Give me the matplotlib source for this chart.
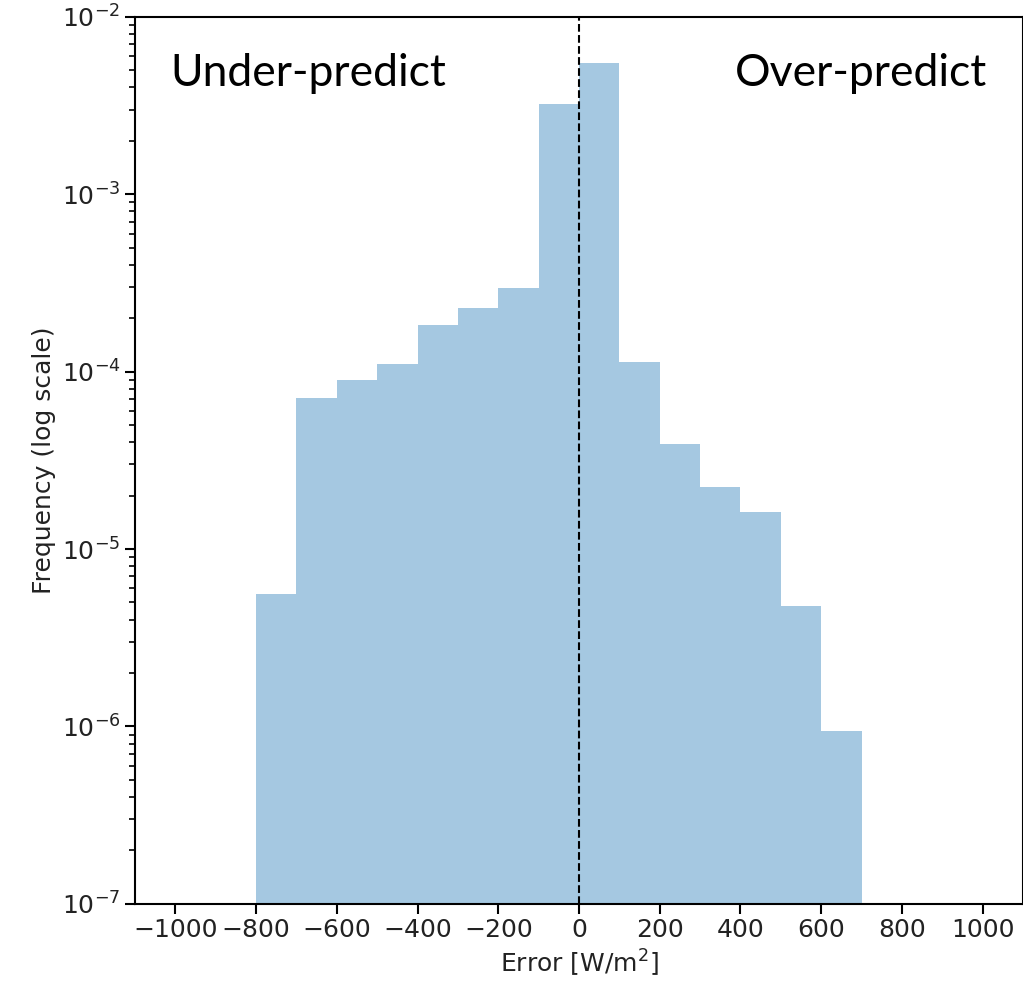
import numpy as np
import matplotlib
matplotlib.use("Agg")
import matplotlib.pyplot as plt

# bin edges of the error histogram (W/m^2)
bin_edges = [-800, -700, -600, -500, -400, -300, -200, -100, 0,
             100, 200, 300, 400, 500, 600, 700]
# normalised frequency per bin
frequency = [5.6e-6, 7.1e-5, 9.0e-5, 1.1e-4, 1.84e-4, 2.29e-4, 2.97e-4, 3.23e-3,
             5.5e-3, 1.14e-4, 3.92e-5, 2.24e-5, 1.62e-5, 4.78e-6, 9.4e-7]
x_ticks = [-1000, -800, -600, -400, -200, 0, 200, 400, 600, 800, 1000]


def main() -> None:
    fig = plt.figure(figsize=(10.23, 9.91), dpi=100)
    ax = fig.add_axes([0.132, 0.088, 0.868, 0.895])

    edges = np.array(bin_edges)
    ax.bar(edges[:-1], frequency, width=np.diff(edges), align="edge",
           color="C0", alpha=0.4, linewidth=0)
    ax.axvline(0, color="black", linestyle="--", linewidth=1.5)

    ax.set_yscale("log")
    ax.set_ylim(1e-7, 1e-2)
    ax.set_xlim(-1100, 1100)
    ax.set_xticks(x_ticks)

    ax.tick_params(axis="both", which="major", labelsize=18, length=7, width=1.5,
                   labelcolor="#222222")
    ax.tick_params(axis="both", which="minor", length=4, width=1.2)
    for sp in ax.spines.values():
        sp.set_linewidth(1.5)

    ax.set_xlabel("Error [W/m$^2$]", fontsize=18, color="#222222")
    ax.set_ylabel("Frequency (log scale)", fontsize=18, color="#222222")

    ax.text(0.04, 0.922, "Under-predict", transform=ax.transAxes,
            fontsize=32, family="Lato", ha="left", va="baseline")
    ax.text(0.96, 0.922, "Over-predict", transform=ax.transAxes,
            fontsize=32, family="Lato", ha="right", va="baseline")

    fig.savefig("out.png", dpi=100)
    plt.close(fig)


if __name__ == "__main__":
    main()
